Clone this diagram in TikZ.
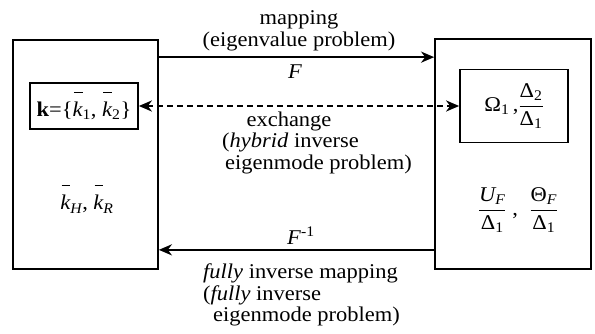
\documentclass[tikz,border=0pt]{standalone}
\usepackage{amsmath}
\usepackage{fontspec}
\setmainfont[FakeStretch=1.07]{Liberation Serif}
\usetikzlibrary{arrows.meta,calc}
\newcommand{\kbar}{\mathord{\text{\itshape k}\llap{\raisebox{1.12em}{\rule{0.42em}{0.07em}}}}}
\begin{document}
\begin{tikzpicture}[x=1pt,y=-1pt,
  box/.style={draw,line width=1.7pt,inner sep=0pt},
  lbl/.style={font=\fontsize{21}{22}\selectfont,inner sep=0pt},
  arr/.style={line width=2.2pt,-{Stealth[length=13pt,width=11pt,inset=4pt]}},
  darr/.style={line width=2.2pt,dash pattern=on 6pt off 4pt,{Stealth[length=13pt,width=11pt,inset=4pt]}-{Stealth[length=13pt,width=11pt,inset=4pt]}}]
\useasboundingbox (0,0) rectangle (595,334);
\node[box,minimum width=145pt,minimum height=229pt] (L) at (85.5,154.5) {};
\node[box,minimum width=156pt,minimum height=230pt] (R) at (513,154) {};
\node[box,lbl,minimum width=108pt,minimum height=46pt] (Li) at (84,106)
  {\textbf{k}=\{$\kbar_{\text{1}}$, $\kbar_{\text{2}}$\}};
\node[box,lbl,minimum width=108pt,minimum height=73pt] (Ri) at (514,106)
  {Ω$_{\text{1}}$\,,$\dfrac{\text{Δ}_{\text{2}}}{\text{Δ}_{\text{1}}}$};
\node[lbl,anchor=base] (kHR) at (87,210) {$\kbar_{\text{\itshape H}}$, $\kbar_{\text{\itshape R}}$};
\node[lbl] (UT) at (518,210)
  {$\dfrac{\text{\itshape U}_{\text{\itshape F}}}{\text{Δ}_{\text{1}}}$ ,\; $\dfrac{\text{Θ}_{\text{\itshape F}}}{\text{Δ}_{\text{1}}}$};
\draw[arr] ($(L.north east)+(0,18)$) -- ($(R.north west)+(0,19)$);
\draw[darr] (Li.east) -- (Ri.west);
\draw[arr] ($(R.south west)+(0,-20)$) -- ($(L.south east)+(0,-20)$);
\node[lbl,anchor=base] (t1) at (299,25) {mapping};
\node[lbl,anchor=base] (t2) at (299,47) {(eigenvalue problem)};
\node[lbl,anchor=base] (tF) at (295,79) {\textit{F}};
\node[lbl,anchor=base] (e1) at (289,127) {exchange};
\node[lbl,anchor=base west] (e2) at (222,148) {(\textit{hybrid} inverse};
\node[lbl,anchor=base west] (e3) at (225,170) {eigenmode problem)};
\node[lbl,anchor=base] (tFi) at (301,244) {\textit{F}\textsuperscript{-1}};
\node[lbl,anchor=base west] (f1) at (203,278) {\textit{fully} inverse mapping};
\node[lbl,anchor=base west] (f2) at (203,300) {(\textit{fully} inverse};
\node[lbl,anchor=base west] (f3) at (213,321) {eigenmode problem)};
\end{tikzpicture}
\end{document}
